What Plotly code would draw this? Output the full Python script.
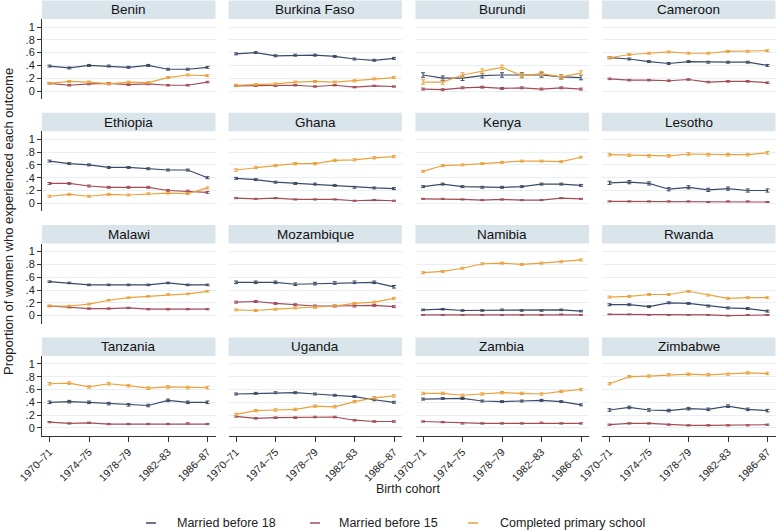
import plotly.graph_objects as go

cohorts = ["1970–71", "1972–73", "1974–75", "1976–77", "1978–79",
           "1980–81", "1982–83", "1984–85", "1986–87"]
tick_cohorts = ["1970–71", "1974–75", "1978–79", "1982–83", "1986–87"]

countries = ["Benin", "Burkina Faso", "Burundi", "Cameroon",
             "Ethiopia", "Ghana", "Kenya", "Lesotho",
             "Malawi", "Mozambique", "Namibia", "Rwanda",
             "Tanzania", "Uganda", "Zambia", "Zimbabwe"]

married_before_18 = {
    "Benin":        [.39, .36, .40, .39, .37, .40, .34, .34, .37],
    "Burkina Faso": [.58, .60, .55, .56, .56, .54, .50, .48, .51],
    "Burundi":      [.25, .20, .20, .24, .25, .25, .25, .22, .21],
    "Cameroon":     [.52, .50, .46, .43, .46, .45, .45, .45, .40],
    "Ethiopia":     [.66, .62, .60, .56, .56, .54, .52, .52, .40],
    "Ghana":        [.39, .37, .33, .31, .30, .28, .25, .24, .23],
    "Kenya":        [.26, .30, .26, .25, .25, .26, .30, .30, .28],
    "Lesotho":      [.32, .33, .31, .22, .25, .21, .23, .20, .20],
    "Malawi":       [.53, .51, .48, .48, .48, .48, .51, .48, .48],
    "Mozambique":   [.52, .52, .52, .49, .50, .51, .52, .52, .45],
    "Namibia":      [.09, .10, .08, .08, .09, .08, .08, .09, .07],
    "Rwanda":       [.17, .17, .14, .20, .19, .15, .12, .11, .07],
    "Tanzania":     [.40, .41, .40, .38, .36, .35, .43, .40, .40],
    "Uganda":       [.53, .54, .55, .55, .53, .51, .49, .44, .40],
    "Zambia":       [.45, .46, .46, .42, .41, .42, .43, .41, .36],
    "Zimbabwe":     [.28, .32, .28, .27, .30, .29, .34, .29, .27],
}

married_before_15 = {
    "Benin":        [.12, .09, .11, .12, .10, .11, .09, .09, .14],
    "Burkina Faso": [.08, .08, .08, .09, .07, .09, .06, .08, .07],
    "Burundi":      [.03, .02, .05, .06, .04, .05, .03, .05, .03],
    "Cameroon":     [.19, .17, .17, .16, .18, .14, .15, .15, .13],
    "Ethiopia":     [.31, .31, .27, .25, .25, .25, .20, .19, .17],
    "Ghana":        [.08, .07, .08, .06, .06, .06, .04, .05, .04],
    "Kenya":        [.07, .07, .06, .05, .06, .05, .05, .08, .07],
    "Lesotho":      [.03, .03, .03, .03, .03, .02, .03, .03, .02],
    "Malawi":       [.15, .13, .11, .11, .12, .10, .10, .10, .10],
    "Mozambique":   [.21, .22, .19, .17, .15, .15, .15, .16, .14],
    "Namibia":      [.01, .01, .01, .01, .01, .01, .01, .02, .01],
    "Rwanda":       [.02, .02, .01, .01, .01, .01, .00, .01, .01],
    "Tanzania":     [.09, .07, .08, .06, .06, .06, .06, .07, .06],
    "Uganda":       [.18, .15, .16, .16, .17, .17, .12, .10, .10],
    "Zambia":       [.10, .09, .07, .07, .07, .07, .08, .07, .07],
    "Zimbabwe":     [.05, .07, .07, .05, .04, .04, .04, .04, .05],
}

completed_primary = {
    "Benin":        [.12, .15, .14, .11, .14, .13, .21, .25, .24],
    "Burkina Faso": [.09, .10, .11, .14, .15, .14, .16, .19, .21],
    "Burundi":      [.14, .14, .25, .31, .37, .24, .27, .22, .28],
    "Cameroon":     [.52, .57, .59, .61, .59, .59, .62, .62, .63],
    "Ethiopia":     [.11, .14, .11, .14, .13, .15, .16, .15, .24],
    "Ghana":        [.52, .56, .59, .62, .62, .67, .68, .71, .73],
    "Kenya":        [.50, .59, .60, .62, .64, .66, .66, .65, .72],
    "Lesotho":      [.76, .75, .74, .74, .77, .76, .76, .76, .79],
    "Malawi":       [.15, .15, .18, .24, .28, .30, .33, .34, .38],
    "Mozambique":   [.09, .08, .10, .12, .13, .15, .19, .21, .27],
    "Namibia":      [.67, .69, .74, .81, .82, .80, .82, .84, .87],
    "Rwanda":       [.29, .30, .33, .33, .38, .32, .27, .28, .28],
    "Tanzania":     [.69, .70, .64, .69, .66, .62, .64, .63, .63],
    "Uganda":       [.21, .27, .28, .29, .34, .33, .41, .47, .50],
    "Zambia":       [.54, .54, .51, .53, .55, .54, .53, .57, .60],
    "Zimbabwe":     [.69, .80, .81, .83, .84, .83, .84, .86, .85],
}

# approximate 95% CI half-widths (married<18, married<15, primary)
ci_halfwidth = {
    "Benin": (.015, .012, .015), "Burkina Faso": (.015, .010, .015),
    "Burundi": (.035, .015, .035), "Cameroon": (.015, .012, .015),
    "Ethiopia": (.015, .015, .015), "Ghana": (.015, .008, .018),
    "Kenya": (.015, .008, .015), "Lesotho": (.025, .008, .02),
    "Malawi": (.012, .01, .012), "Mozambique": (.02, .015, .015),
    "Namibia": (.012, .006, .015), "Rwanda": (.015, .006, .015),
    "Tanzania": (.02, .01, .02), "Uganda": (.015, .012, .018),
    "Zambia": (.015, .01, .018), "Zimbabwe": (.02, .01, .018),
}

series_names = ["Married before 18", "Married before 15", "Completed primary school"]
series_data = [married_before_18, married_before_15, completed_primary]
colors = ["#3B4A68", "#A34B57", "#EBA23C"]

W, H = 776, 531
FONT = "Liberation Sans, Arial, sans-serif"


def px_x(p):
    return p / W


def px_y(p):
    return 1 - p / H


col_left = [42, 228.5, 415.5, 602]
col_w = 173.5
row_period = 112.3
header_h = 18.5
plot_h = 80

fig = go.Figure()
shapes = []
annotations = []
layout_axes = {}

for i, c in enumerate(countries):
    r, k = divmod(i, 4)
    n = i + 1
    xa = "x" if n == 1 else f"x{n}"
    ya = "y" if n == 1 else f"y{n}"
    xkey = "xaxis" if n == 1 else f"xaxis{n}"
    ykey = "yaxis" if n == 1 else f"yaxis{n}"
    left = col_left[k]
    right = left + col_w
    htop = 0.5 + r * row_period
    hbot = htop + header_h
    pbot = hbot + plot_h

    for s, (name, data) in enumerate(zip(series_names, series_data)):
        e = ci_halfwidth[c][s]
        fig.add_trace(go.Scatter(
            x=cohorts, y=data[c], mode="lines", name=name,
            xaxis=xa, yaxis=ya, showlegend=False,
            line=dict(color=colors[s], width=1.2),
            error_y=dict(type="constant", value=e, color=colors[s],
                         thickness=1, width=2),
            hoverinfo="skip",
        ))

    bottom_row = r == 3
    first_col = k == 0
    layout_axes[xkey] = dict(
        domain=[px_x(left), px_x(right)], anchor=ya, automargin=False,
        type="category", range=[-0.38, 8.405],
        showgrid=False, zeroline=False,
        showline=bottom_row, linecolor="#333333", linewidth=1,
        ticks="outside" if bottom_row else "", ticklen=5, tickcolor="#333333",
        tickvals=tick_cohorts, ticktext=tick_cohorts,
        showticklabels=bottom_row, tickangle=-45,
        tickfont=dict(family=FONT, size=10.5, color="#222222"),
    )
    layout_axes[ykey] = dict(
        domain=[px_y(pbot), px_y(hbot)], anchor=xa, automargin=False,
        range=[-0.125, 1.125],
        tickvals=[0, .2, .4, .6, .8, 1],
        ticktext=["0", ".2", ".4", ".6", ".8", "1"],
        showgrid=True, gridcolor="#E9EFF3", gridwidth=1, zeroline=False,
        showline=first_col, linecolor="#333333", linewidth=1,
        ticks="outside" if first_col else "", ticklen=4, tickcolor="#333333",
        showticklabels=first_col,
        tickfont=dict(family=FONT, size=11, color="#222222"),
    )
    shapes.append(dict(type="rect", xref="paper", yref="paper",
                       x0=px_x(left), x1=px_x(right),
                       y0=px_y(hbot), y1=px_y(htop),
                       fillcolor="#D9E4EB", line=dict(width=0), layer="below"))
    annotations.append(dict(x=px_x((left + right) / 2), y=px_y((htop + hbot) / 2),
                            xref="paper", yref="paper", text=c, showarrow=False,
                            xanchor="center", yanchor="middle",
                            font=dict(family=FONT, size=13.5, color="#111111")))

# axis titles
annotations.append(dict(x=px_x(408), y=px_y(489), xref="paper", yref="paper",
                        text="Birth cohort", showarrow=False,
                        xanchor="center", yanchor="middle",
                        font=dict(family=FONT, size=12.5, color="#222222")))
annotations.append(dict(x=px_x(9), y=px_y(222), xref="paper", yref="paper",
                        text="Proportion of women who experienced each outcome",
                        textangle=-90, showarrow=False,
                        xanchor="center", yanchor="middle",
                        font=dict(family=FONT, size=13, color="#222222")))

# legend (manual)
leg_y = 523
leg_items = [(146, 175), (310, 337), (468, 498)]
for (lx, tx), name, col in zip(leg_items, series_names, colors):
    shapes.append(dict(type="line", xref="paper", yref="paper",
                       x0=px_x(lx), x1=px_x(lx + 10), y0=px_y(leg_y), y1=px_y(leg_y),
                       line=dict(color=col, width=1.5)))
    annotations.append(dict(x=px_x(tx), y=px_y(leg_y), xref="paper", yref="paper",
                            text=name, showarrow=False, xanchor="left", yanchor="middle",
                            font=dict(family=FONT, size=12.5, color="#222222")))

fig.update_layout(
    width=W, height=H,
    margin=dict(l=0, r=0, t=0, b=0, autoexpand=False),
    paper_bgcolor="white", plot_bgcolor="white",
    showlegend=False,
    shapes=shapes, annotations=annotations,
    **layout_axes,
)

fig.write_html("out.html", config={"displayModeBar": False},
               post_script="document.body.style.margin='0';document.body.style.overflow='hidden';")
